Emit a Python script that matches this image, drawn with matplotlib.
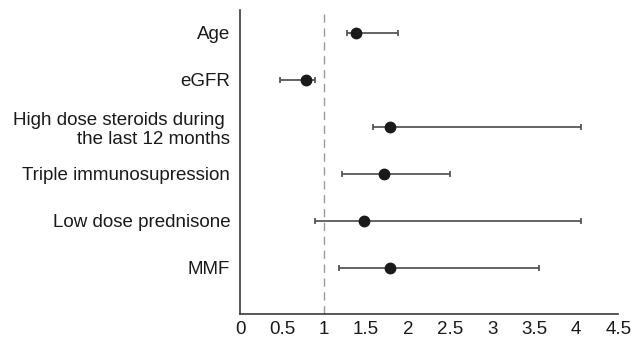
import numpy as np
import matplotlib.pyplot as plt

plt.rcParams['font.family'] = ['Liberation Sans', 'DejaVu Sans']

# data
labels = ["Age", "eGFR", "High dose steroids during \nthe last 12 months",
          "Triple immunosupression", "Low dose prednisone", "MMF"]
odds = [1.38, 0.78, 1.78, 1.71, 1.47, 1.78]
ci_low = [1.27, 0.48, 1.58, 1.21, 0.89, 1.18]
ci_high = [1.88, 0.89, 4.06, 2.50, 4.06, 3.56]

ypos = np.arange(len(labels))[::-1]
odds = np.array(odds)
err = [odds - np.array(ci_low), np.array(ci_high) - odds]

fig = plt.figure(figsize=(6.39, 3.40), dpi=100)
ax = fig.add_axes([0.3756, 0.077, 0.592, 0.894])

ax.axvline(1, color='#9a9a9a', lw=1, dashes=(6, 4), zorder=1)
ax.errorbar(odds, ypos, xerr=err, fmt='o', color='#1a1a1a', ms=7.5,
            ecolor='#4a4a4a', elinewidth=1.2, capsize=2.5, capthick=1.2, zorder=3)

ax.set_xlim(0, 4.5)
ax.set_ylim(-0.98, 5.49)
ax.set_xticks(np.arange(0, 4.51, 0.5))
ax.set_xticklabels(["0", "0.5", "1", "1.5", "2", "2.5", "3", "3.5", "4", "4.5"])
ax.set_yticks(ypos)
ax.set_yticklabels(labels)
ax.tick_params(axis='both', length=0, labelsize=13.5, colors='#1a1a1a')
ax.tick_params(axis='y', pad=7)
ax.tick_params(axis='x', pad=5)

for s in ['top', 'right']:
    ax.spines[s].set_visible(False)
for s in ['left', 'bottom']:
    ax.spines[s].set_color('#3a3a3a')
    ax.spines[s].set_linewidth(1.2)

fig.savefig("out.png", dpi=100)
